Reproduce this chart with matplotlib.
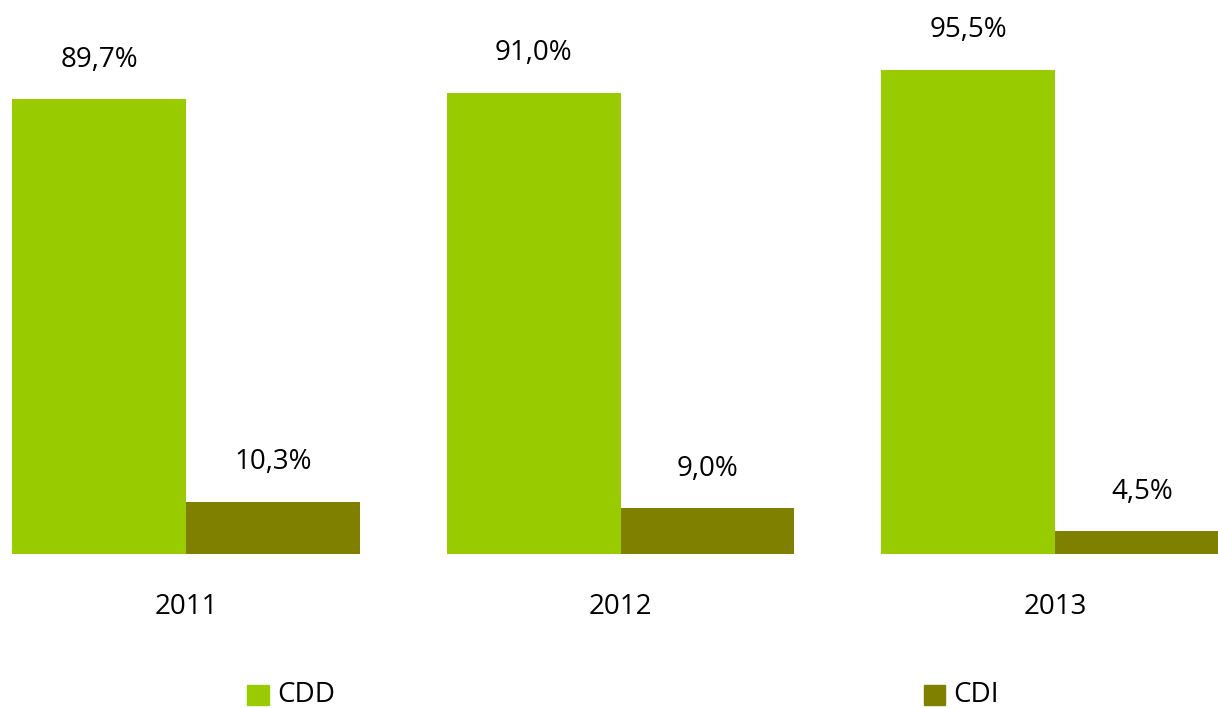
import matplotlib
matplotlib.use('agg')
import matplotlib.pyplot as plt
import numpy as np

years = ['2011', '2012', '2013']
cdd = [89.7, 91.0, 95.5]
cdi = [10.3, 9.0, 4.5]
cdd_labels = ['89,7%', '91,0%', '95,5%']
cdi_labels = ['10,3%', '9,0%', '4,5%']

green = '#99cc00'
olive = '#808000'

plt.rcParams['font.family'] = ['Open Sans', 'DejaVu Sans']

fig = plt.figure(figsize=(12.18, 7.08), dpi=100)
ax = fig.add_axes([0, 154/708, 1, 554/708])

x = np.arange(len(years))
w = 0.4
b1 = ax.bar(x - w/2, cdd, w, color=green)
b2 = ax.bar(x + w/2, cdi, w, color=olive)

for rect, lab in zip(b1, cdd_labels):
    ax.text(rect.get_x() + rect.get_width()/2, rect.get_height() + 5, lab,
            ha='center', va='bottom', fontsize=20)
for rect, lab in zip(b2, cdi_labels):
    ax.text(rect.get_x() + rect.get_width()/2, rect.get_height() + 5, lab,
            ha='center', va='bottom', fontsize=20)

ax.set_xlim(-186/434.5, (1218-186)/434.5)
ax.set_ylim(0, 554/5.07)
ax.set_xticks(x)
ax.set_xticklabels(years, fontsize=20)
ax.tick_params(axis='x', length=0, pad=28)
ax.set_yticks([])
for s in ax.spines.values():
    s.set_visible(False)

# legend
fig.patches.append(plt.Rectangle((247/1218, 3/708), 22/1218, 20/708,
                                 transform=fig.transFigure, color=green))
fig.text(277/1218, 13/708, 'CDD', fontsize=20, va='center', ha='left')
fig.patches.append(plt.Rectangle((924/1218, 3/708), 21/1218, 20/708,
                                 transform=fig.transFigure, color=olive))
fig.text(953/1218, 13/708, 'CDI', fontsize=20, va='center', ha='left')

fig.savefig('out.png', dpi=100)
